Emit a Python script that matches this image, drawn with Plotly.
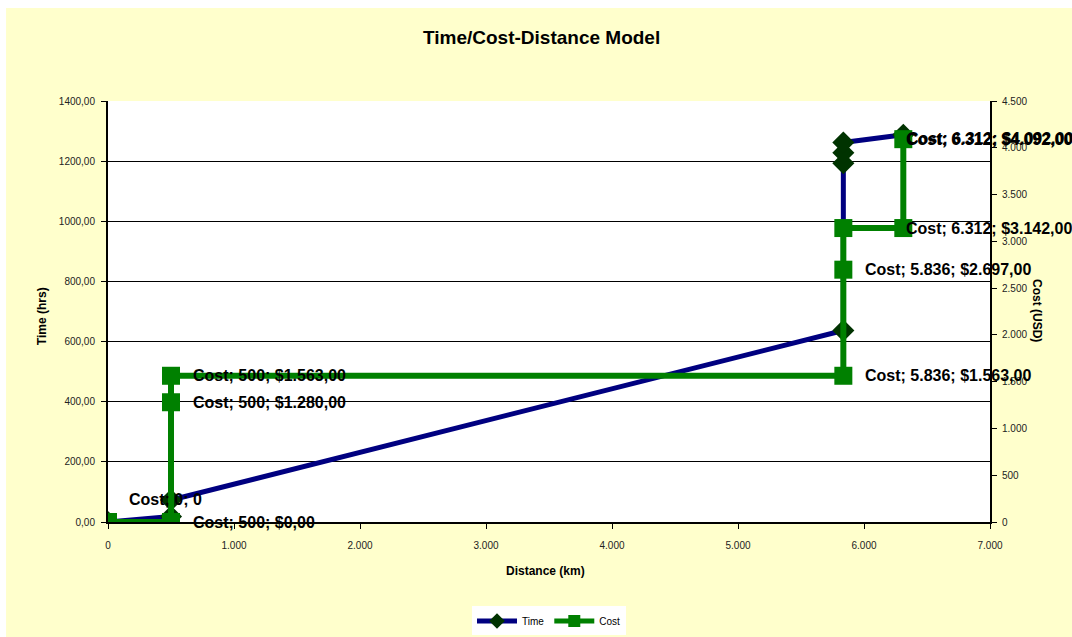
import plotly.graph_objects as go

# Distance (km) / time (hrs) series
time_distance = [0, 500, 500, 5836, 5836, 5836, 5836, 6312]
time_hours = [0, 18, 73, 637, 1193, 1228, 1262, 1288]

# Distance (km) / cost (USD) series
cost_distance = [0, 500, 500, 500, 5836, 5836, 5836, 6312, 6312]
cost_usd = [0, 0, 1280, 1563, 1563, 2697, 3142, 3142, 4092]

# Axis ticks
x_tickvals = [0, 1000, 2000, 3000, 4000, 5000, 6000, 7000]
x_ticktext = ["0", "1.000", "2.000", "3.000", "4.000", "5.000", "6.000", "7.000"]
y_tickvals = [0, 200, 400, 600, 800, 1000, 1200, 1400]
y_ticktext = ["0,00", "200,00", "400,00", "600,00", "800,00", "1000,00", "1200,00", "1400,00"]
y2_tickvals = [0, 500, 1000, 1500, 2000, 2500, 3000, 3500, 4000, 4500]
y2_ticktext = ["0", "500", "1.000", "1.500", "2.000", "2.500", "3.000", "3.500", "4.000", "4.500"]

# Which cost points carry a data label
labelled_points = [1, 2, 3, 4, 5, 7, 8]

FONT = "Arial, Liberation Sans, sans-serif"
NAVY = "#000080"
GREEN = "#008000"
DARK = "#003300"


def thousands(v):
    return f"{int(v):,}".replace(",", ".")


def money(v):
    return "$" + thousands(v) + ",00"


fig = go.Figure()

fig.add_trace(go.Scatter(
    x=time_distance, y=time_hours, name="Time", mode="lines+markers",
    line=dict(color=NAVY, width=5),
    marker=dict(symbol="diamond", size=17, color=DARK),
    yaxis="y",
))
fig.add_trace(go.Scatter(
    x=cost_distance, y=cost_usd, name="Cost", mode="lines+markers",
    line=dict(color=GREEN, width=6),
    marker=dict(symbol="square", size=18, color=GREEN),
    yaxis="y2",
))

label_font = dict(family=FONT, size=16, color="black")
annotations = []

# first point label sits above and to the right
annotations.append(dict(
    x=cost_distance[0], y=cost_usd[0], xref="x", yref="y2",
    text=f"<b>Cost; {cost_distance[0]}; {cost_usd[0]}</b>",
    showarrow=False, xanchor="left", yanchor="middle",
    xshift=19, yshift=23, font=label_font,
))
for i in labelled_points:
    shift = 1 if cost_distance[i] > 6000 else 20
    txt = f"<b>Cost; {thousands(cost_distance[i])}; {money(cost_usd[i])}</b>"
    annotations.append(dict(
        x=cost_distance[i], y=cost_usd[i], xref="x", yref="y2",
        text=txt, showarrow=False, xanchor="left", yanchor="middle",
        xshift=shift, font=label_font,
    ))
    if i == len(cost_usd) - 1:
        annotations.append(dict(
            x=cost_distance[i], y=cost_usd[i], xref="x", yref="y2",
            text=txt, showarrow=False, xanchor="left", yanchor="middle",
            xshift=shift + 1, yshift=1, font=label_font,
        ))

title_font = dict(family=FONT, size=12, color="black")
centered = dict(xref="paper", yref="paper", showarrow=False, xanchor="center", yanchor="middle")
annotations += [
    dict(text="<b>Time/Cost-Distance Model</b>", x=0.492, y=1.152,
         font=dict(family=FONT, size=19, color="black"), **centered),
    dict(text="<b>Time (hrs)</b>", x=-0.0748, y=0.489, textangle=-90, font=title_font, **centered),
    dict(text="<b>Cost (USD)</b>", x=1.0533, y=0.5036, textangle=90, font=title_font, **centered),
    dict(text="<b>Distance (km)</b>", x=0.4955, y=-0.1164, font=title_font, **centered),
]

axis_common = dict(
    showline=True, linecolor="black", linewidth=2, ticks="outside",
    ticklen=5, tickcolor="black", tickwidth=1,
    tickfont=dict(family=FONT, size=10, color="#222"), zeroline=False,
)

fig.update_layout(
    width=1072, height=637,
    margin=dict(l=108, r=82, t=101, b=115, autoexpand=False),
    paper_bgcolor="#FFFFCC", plot_bgcolor="white",
    showlegend=True,
    legend=dict(orientation="h", x=0.5, xanchor="center", y=-0.235, yanchor="middle",
                bgcolor="white", font=dict(family=FONT, size=10, color="black"),
                itemsizing="constant", itemwidth=40),
    xaxis=dict(range=[0, 7000], tickvals=x_tickvals, ticktext=x_ticktext,
               showgrid=False, ticklabelstandoff=8, **axis_common),
    yaxis=dict(range=[0, 1400], tickvals=y_tickvals, ticktext=y_ticktext,
               showgrid=True, gridcolor="black", gridwidth=1, ticklabelstandoff=4,
               **axis_common),
    yaxis2=dict(range=[0, 4500], tickvals=y2_tickvals, ticktext=y2_ticktext,
                overlaying="y", side="right", showgrid=False, ticklabelstandoff=3,
                **axis_common),
    annotations=annotations,
    shapes=[
        dict(type="rect", xref="paper", yref="paper", x0=-0.2, x1=1.2, y0=1.2209, y1=1.3,
             fillcolor="white", line=dict(width=0), layer="below"),
        dict(type="rect", xref="paper", yref="paper", x0=-0.2, x1=-0.1156, y0=-0.3, y1=1.3,
             fillcolor="white", line=dict(width=0), layer="below"),
    ],
)

fig.write_html("out.html")
